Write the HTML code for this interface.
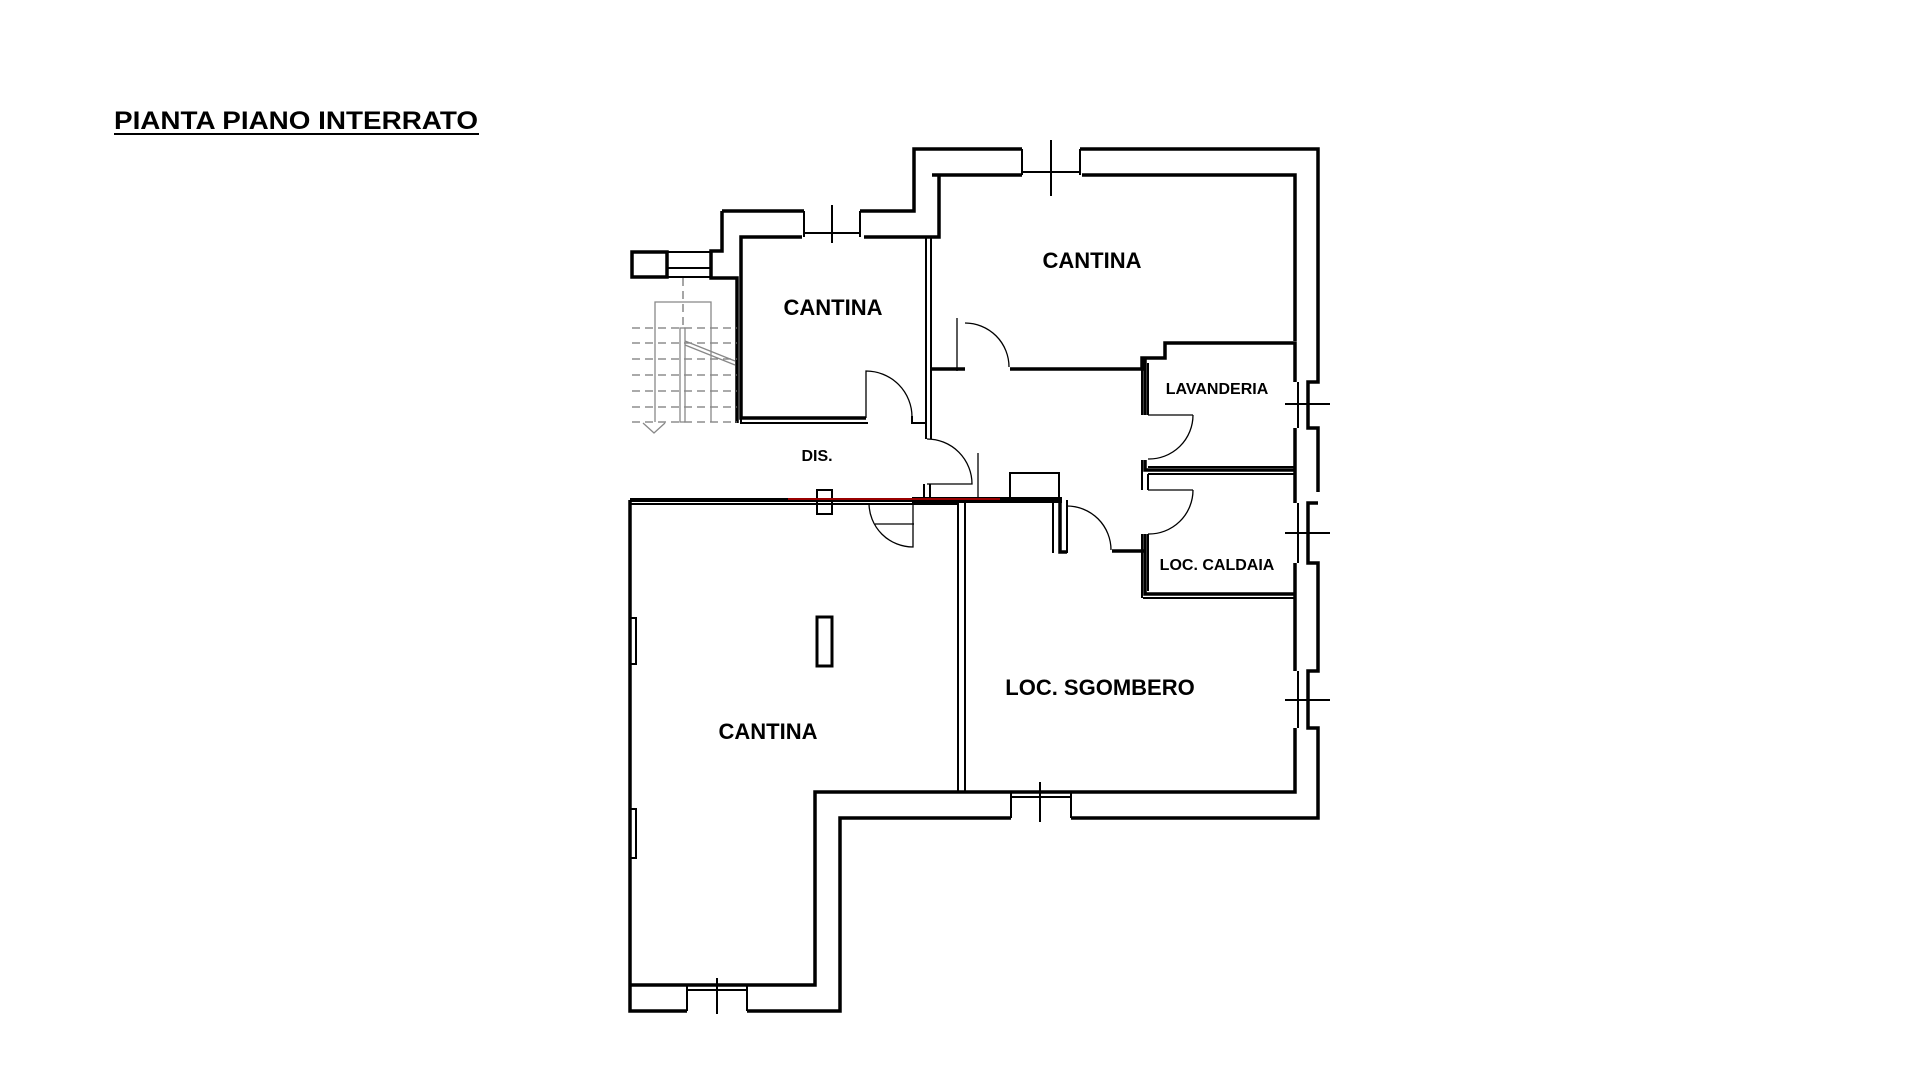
<!DOCTYPE html>
<html><head><meta charset="utf-8"><style>
html,body{margin:0;padding:0;background:#fff;}
svg{display:block;}
text{font-family:"Liberation Sans",sans-serif;font-weight:bold;fill:#000;}
</style></head><body>
<svg width="1920" height="1080" viewBox="0 0 1920 1080" xmlns="http://www.w3.org/2000/svg">
<rect width="1920" height="1080" fill="#fff"/>
<text x="114" y="129" font-size="25" textLength="364" lengthAdjust="spacingAndGlyphs">PIANTA PIANO INTERRATO</text>
<line x1="114" y1="134" x2="479" y2="134" stroke="#000" stroke-width="2"/>

<g fill="none" stroke="#000" stroke-width="3.5" stroke-linejoin="miter">
<path d="M722,211 H804 M860,211 H914 V149 H1022 M1080,149 H1318 V382 H1308 V428 H1318 V492 M1318,503 H1308 V563 H1318 V671 H1308 V728 H1318 V818 H1071 M1011,818 H840 V1011 H747 M687,1011 H630 V500"/>
<path d="M722,211 V251 H711 V278 H737 V423"/>
<rect x="632" y="252" width="35" height="25"/>
<path d="M932,175 H1022 M1082,175 H1295 V341"/>
<path d="M939,175 V237 H926"/>
<path d="M864,237 H926 M802,237 H741 V418 H866"/>
<path d="M1010,369 H1142 V358 H1165 V343 H1295 V382"/>
<path d="M1145,358 V415 M1145,460 V470 H1295 M1295,428 V503"/>
<path d="M1145,534 V594 H1295 M1295,563 V671 M1295,728 V792 H815 V985 H630"/>
<path d="M930,369 H965"/>
<path d="M1112,551 H1145"/>
<path d="M1060,500 V552 H1067"/>
</g>
<g fill="none" stroke="#000" stroke-width="2">
<path d="M926,237 V439 M931,237 V439 M912,416 V423 H926"/>
<path d="M737,278 V423 M741,418 V423 H868"/>
<path d="M958,503 V792 M965,503 V792"/>
<path d="M924,484 V499 M930,484 V499"/>
<path d="M1142,358 V415 M1148,363 V415 M1142,460 V490 M1148,474 V490 M1142,534 V598 M1148,534 V591"/>
<path d="M1143,598 H1295 M1148,474 H1295 M1148,467 H1295"/>
<path d="M1053,500 V553 M1067,500 V553"/>
<path d="M630,504 H958"/>
<rect x="1010" y="473" width="49" height="27"/>
<rect x="817" y="617" width="15" height="49" stroke-width="3"/>
<path d="M630,618 H636 V664 H630 M630,809 H636 V858 H630"/>
<path d="M817,490 H832 V514 H817 Z"/>
<path d="M1022,149 V175 M1080,149 V175 M1022,172 H1080 M1051,140 V196"/>
<path d="M804,211 V237 M860,211 V237 M804,233 H860 M832,205 V243"/>
<path d="M667,252 H711 M667,277 H711 M667,268 H711"/>
<path d="M1011,818 V792 M1071,818 V792 M1011,797 H1071 M1040,782 V822"/>
<path d="M687,1011 V985 M747,1011 V985 M687,990 H747 M717,978 V1014"/>
<path d="M1298,382 V428 M1308,382 V428 M1285,404 H1330"/>
<path d="M1298,503 V563 M1308,503 V563 M1285,533 H1330"/>
<path d="M1298,671 V728 M1308,671 V728 M1285,700 H1330"/>
</g>
<line x1="630" y1="500" x2="1062" y2="500" stroke="#000" stroke-width="4"/>
<line x1="912" y1="500" x2="1062" y2="500" stroke="#000" stroke-width="6"/>
<line x1="788" y1="499" x2="1000" y2="499" stroke="#c00" stroke-width="1.5"/>

<g fill="none" stroke="#000" stroke-width="1.3">
<path d="M866,418 V371 A46,46 0 0 1 912,417"/>
<path d="M927,439 A45,45 0 0 1 972,484 H927"/>
<path d="M957,318 V371"/>
<path d="M965,323 A44,44 0 0 1 1009,367"/>
<path d="M978,453 V497"/>
<path d="M1193,415 H1148 M1193,415 A44,44 0 0 1 1148,459"/>
<path d="M1193,490 H1148 M1193,490 A44,44 0 0 1 1148,534"/>
<path d="M1067,506 A44,44 0 0 1 1111,550"/>
<path d="M869,503 A44,44 0 0 0 913,547 V502 M875,524 H914"/>
<g stroke="#777" stroke-dasharray="8,5">
<path d="M632,328 H737 M632,343 H737 M632,359 H737 M632,375 H737 M632,391 H737 M632,407 H737 M632,422 H737 M683,278 V328"/>
</g>
<g stroke="#888">
<path d="M655,422 V302 H711 V422"/>
<rect x="680" y="328" width="5" height="94"/>
<path d="M685,341 L735,361 M685,345 L735,365"/>
<path d="M643,423 L654,433 L665,423"/>
</g>
</g>

<text x="833" y="315" font-size="22" text-anchor="middle">CANTINA</text>
<text x="1092" y="268" font-size="22" text-anchor="middle">CANTINA</text>
<text x="1217" y="394" font-size="16" text-anchor="middle">LAVANDERIA</text>
<text x="817" y="461" font-size="16" text-anchor="middle">DIS.</text>
<text x="1217" y="570" font-size="16" text-anchor="middle">LOC. CALDAIA</text>
<text x="1100" y="695" font-size="22" text-anchor="middle">LOC. SGOMBERO</text>
<text x="768" y="739" font-size="22" text-anchor="middle">CANTINA</text>
</svg>
</body></html>
